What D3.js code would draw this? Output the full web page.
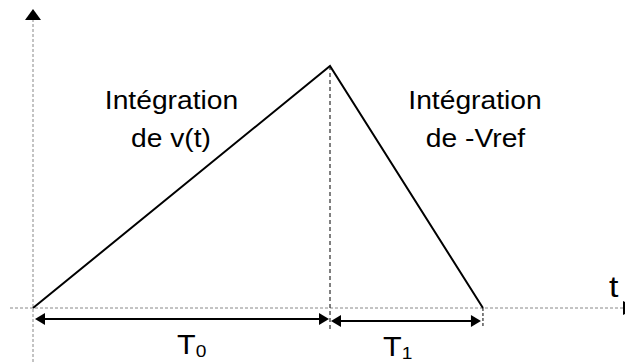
<!DOCTYPE html>
<html><head><meta charset="utf-8">
<script src="https://cdn.jsdelivr.net/npm/d3@7"></script>
<style>html,body{margin:0;padding:0;background:#fff;}svg{display:block;}</style>
</head><body>
<svg id="c" width="625" height="363"></svg>
<script>
// Data: integrator output over time (normalised)
const times = [0, 1.0, 1.515];          // start, end of T0, end of T1
const values = [0, 1, 0];               // integrator output
const phaseLabels = ["T", "T"];
const phaseSubs = ["0", "1"];
const leftLabel = ["Intégration", "de v(t)"];
const rightLabel = ["Intégration", "de -Vref"];
const axisLabelX = "t";

const svg = d3.select("#c");
const x = d3.scaleLinear().domain([0, 2]).range([33, 627]);
const y = d3.scaleLinear().domain([0, 1]).range([308, 66]);
const FONT = "'Liberation Sans', Arial, sans-serif";
const SX = 1.13;

// axes (dashed grey)
svg.append("line").attr("x1", 10).attr("x2", 625).attr("y1", y(0)).attr("y2", y(0))
  .attr("stroke", "#888").attr("stroke-width", 1).attr("stroke-dasharray", "3,2");
svg.append("line").attr("x1", x(0)).attr("x2", x(0)).attr("y1", 19).attr("y2", 363)
  .attr("stroke", "#888").attr("stroke-width", 1).attr("stroke-dasharray", "3,2");
// y axis arrow
svg.append("path").attr("d", `M${x(0)},9 L${x(0)-8},20 L${x(0)+8},20 Z`).attr("fill", "#000");
// x axis arrow (clipped at edge)
svg.append("path").attr("d", `M623,301 L638,308 L623,315 Z`).attr("fill", "#000");

// vertical drop lines
svg.append("line").attr("x1", x(times[1])).attr("x2", x(times[1]))
  .attr("y1", y(values[1])).attr("y2", 331)
  .attr("stroke", "#000").attr("stroke-width", 1).attr("stroke-dasharray", "4,3");
svg.append("line").attr("x1", x(times[2])).attr("x2", x(times[2]))
  .attr("y1", y(0)).attr("y2", 327)
  .attr("stroke", "#000").attr("stroke-width", 1).attr("stroke-dasharray", "3,2");

// triangle
const line = d3.line().x((d, i) => x(times[i])).y(d => y(d));
svg.append("path").datum(values).attr("d", line)
  .attr("fill", "none").attr("stroke", "#000").attr("stroke-width", 2).attr("stroke-linejoin", "miter");

// double-headed arrows
function dblArrow(xa, xb, yy) {
  const L = 10, H = 6;
  svg.append("line").attr("x1", xa + L - 1).attr("x2", xb - L + 1).attr("y1", yy).attr("y2", yy)
    .attr("stroke", "#000").attr("stroke-width", 2);
  svg.append("path").attr("d", `M${xa},${yy} L${xa+L},${yy-H} L${xa+L},${yy+H} Z`).attr("fill", "#000");
  svg.append("path").attr("d", `M${xb},${yy} L${xb-L},${yy-H} L${xb-L},${yy+H} Z`).attr("fill", "#000");
}
dblArrow(x(times[0]) + 2, x(times[1]) - 1, 319);
dblArrow(x(times[1]) + 1, x(times[2]) - 2, 321);

// stretched text helper
function stext(str, cx, by, size, anchor) {
  return svg.append("text")
    .attr("transform", `translate(${cx},${by}) scale(${SX},1)`)
    .attr("text-anchor", anchor || "middle")
    .attr("font-family", FONT).attr("font-size", size).attr("fill", "#000")
    .text(str);
}
stext(leftLabel[0], 171.5, 109, 25);
stext(leftLabel[1], 171, 147, 25);
stext(rightLabel[0], 475, 109, 25);
stext(rightLabel[1], 475.5, 147, 25);

// T0 / T1 labels
function tLabel(main, sub, lx, by) {
  const t = svg.append("text")
    .attr("transform", `translate(${lx},${by}) scale(${SX},1)`)
    .attr("font-family", FONT).attr("font-size", 27).attr("fill", "#000");
  t.append("tspan").text(main);
  t.append("tspan").attr("font-size", 17).attr("dy", 3).text(sub);
}
tLabel(phaseLabels[0], phaseSubs[0], 177, 354);
tLabel(phaseLabels[1], phaseSubs[1], 383, 356);

stext(axisLabelX, 609, 297, 30, "start");
</script>
</body></html>
